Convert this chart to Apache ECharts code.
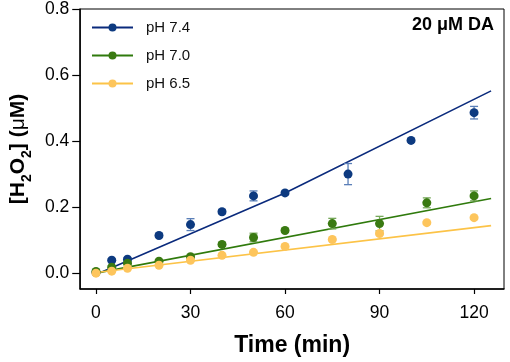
<!DOCTYPE html>
<html>
<head>
<meta charset="utf-8">
<script src="https://cdn.jsdelivr.net/npm/echarts@6/dist/echarts.min.js"></script>
<style>
  html, body { margin: 0; padding: 0; background: #fff; }
  #main { width: 510px; height: 362px; }
</style>
</head>
<body>
<div id="main"></div>
<script>
// measured points (min, uM)
var timeA = [0, 5, 10, 20, 30, 40, 50, 60, 80, 100, 120];
var timeB = [0, 5, 10, 20, 30, 40, 50, 60, 75, 90, 105, 120];
var h74 = [0.002, 0.039, 0.042, 0.114, 0.147, 0.186, 0.234, 0.243, 0.300, 0.402, 0.486];
var err74 = [0.004, 0.004, 0.004, 0.005, 0.018, 0.006, 0.015, 0.005, 0.032, 0.004, 0.019];
var h70 = [0.005, 0.018, 0.030, 0.036, 0.050, 0.087, 0.108, 0.129, 0.150, 0.150, 0.213, 0.234];
var err70 = [0.003, 0.004, 0.004, 0.003, 0.004, 0.005, 0.013, 0.005, 0.016, 0.022, 0.015, 0.015];
var h65 = [0.000, 0.006, 0.015, 0.024, 0.039, 0.054, 0.063, 0.081, 0.102, 0.120, 0.153, 0.168];
var err65 = [0.002, 0.002, 0.003, 0.003, 0.003, 0.003, 0.003, 0.003, 0.003, 0.004, 0.003, 0.003];

// fitted lines
var fitT74 = [0, 60, 125.4];
var fit74 = [-0.004, 0.243, 0.552];
var fitT = [0, 125.4];
var fit70 = [0.000, 0.226];
var fit65 = [0.002, 0.144];

var xTicks = [0, 30, 60, 90, 120];
var yTicks = [0, 0.2, 0.4, 0.6, 0.8];

var font = '"Liberation Sans", Arial, Helvetica, sans-serif';
var cBlue = '#0d3a80', cGreen = '#3a7a12', cYellow = '#fdc55c';
var lBlue = '#0a2a7c', lGreen = '#2f7a0c', lYellow = '#fcc347';
var eBlue = '#5a7fb8', eGreen = '#76a85a', eYellow = '#f3cf8a';

function pairs(xs, ys) {
    var out = [];
    for (var i = 0; i < xs.length; i++) out.push([xs[i], ys[i]]);
    return out;
}
function errData(xs, ys, es) {
    var out = [];
    for (var i = 0; i < xs.length; i++) out.push([xs[i], ys[i] - es[i], ys[i] + es[i]]);
    return out;
}
function errSeries(data, color) {
    return {
        type: 'custom',
        silent: true,
        z: 3,
        data: data,
        encode: { x: 0, y: [1, 2] },
        renderItem: function (params, api) {
            var lo = api.coord([api.value(0), api.value(1)]);
            var hi = api.coord([api.value(0), api.value(2)]);
            var w = 4;
            var st = { stroke: color, lineWidth: 1.3, fill: null };
            return {
                type: 'group',
                children: [
                    { type: 'line', shape: { x1: lo[0], y1: lo[1], x2: hi[0], y2: hi[1] }, style: st },
                    { type: 'line', shape: { x1: lo[0] - w, y1: lo[1], x2: lo[0] + w, y2: lo[1] }, style: st },
                    { type: 'line', shape: { x1: hi[0] - w, y1: hi[1], x2: hi[0] + w, y2: hi[1] }, style: st }
                ]
            };
        }
    };
}
function fitSeries(name, xs, ys, lc, mc) {
    return {
        name: name,
        type: 'line',
        data: pairs(xs, ys),
        showSymbol: false,
        symbol: 'circle',
        symbolSize: 9,
        silent: true,
        z: 2,
        lineStyle: { color: lc, width: 1.6 },
        itemStyle: { color: mc }
    };
}
function dotSeries(name, xs, ys, color, z) {
    return {
        name: name + ' pts',
        type: 'scatter',
        data: pairs(xs, ys),
        symbol: 'circle',
        symbolSize: 9,
        z: z,
        itemStyle: { color: color, opacity: 1 }
    };
}

var chart = echarts.init(document.getElementById('main'));
chart.setOption({
    animation: false,
    textStyle: { fontFamily: font },
    grid: {
        left: 78, right: 6, top: 8, bottom: 69,
        show: true, borderColor: '#000', borderWidth: 1
    },
    legend: {
        orient: 'vertical',
        left: 86, top: 15,
        itemWidth: 41, itemHeight: 10, itemGap: 13,
        data: ['pH 7.4', 'pH 7.0', 'pH 6.5'],
        textStyle: { fontFamily: font, fontSize: 15, color: '#111', padding: [0, 0, 0, 8] }
    },
    graphic: [{
        type: 'text',
        right: 16, top: 16,
        style: { text: '20 μM DA', font: 'bold 18px ' + font, fill: '#000' }
    }],
    xAxis: {
        type: 'value',
        min: -5, max: 129.5,
        name: 'Time (min)',
        nameLocation: 'middle',
        nameGap: 45,
        nameTextStyle: { fontFamily: font, fontSize: 23, fontWeight: 'bold', color: '#000' },
        axisLine: { show: true, onZero: false, lineStyle: { color: '#000', width: 1.5 } },
        axisTick: { show: true, length: 5, customValues: xTicks, lineStyle: { color: '#000', width: 1.2 } },
        axisLabel: { customValues: xTicks, fontSize: 17.5, color: '#000', margin: 15, fontFamily: font },
        splitLine: { show: false }
    },
    yAxis: {
        type: 'value',
        min: -0.048, max: 0.8,
        name: '{a|[H}{s|2}{a|O}{s|2}{a|] (}{m|μ}{a|M)}',
        nameLocation: 'middle',
        nameGap: 35,
        nameTextStyle: {
            rich: {
                a: { fontFamily: font, fontSize: 21, fontWeight: 'bold', color: '#000', lineHeight: 24, verticalAlign: 'bottom' },
                s: { fontFamily: font, fontSize: 14, fontWeight: 'bold', color: '#000', lineHeight: 24, verticalAlign: 'bottom', padding: [0, 0, -5, 0] },
                m: { fontFamily: font, fontSize: 21, fontWeight: 'normal', color: '#000', lineHeight: 24, verticalAlign: 'bottom' }
            }
        },
        axisLine: { show: true, onZero: false, lineStyle: { color: '#000', width: 1.5 } },
        axisTick: { show: true, length: 8, customValues: yTicks, lineStyle: { color: '#000', width: 1.2 } },
        axisLabel: {
            customValues: yTicks, fontSize: 17.5, color: '#000', margin: 11, fontFamily: font,
            formatter: function (v) { return v.toFixed(1); }
        },
        splitLine: { show: false }
    },
    series: [
        fitSeries('pH 7.4', fitT74, fit74, lBlue, cBlue),
        fitSeries('pH 7.0', fitT, fit70, lGreen, cGreen),
        fitSeries('pH 6.5', fitT, fit65, lYellow, cYellow),
        errSeries(errData(timeA, h74, err74), eBlue),
        errSeries(errData(timeB, h70, err70), eGreen),
        errSeries(errData(timeB, h65, err65), eYellow),
        dotSeries('pH 7.4', timeA, h74, cBlue, 4),
        dotSeries('pH 7.0', timeB, h70, cGreen, 5),
        dotSeries('pH 6.5', timeB, h65, cYellow, 6)
    ]
});
</script>
</body>
</html>
